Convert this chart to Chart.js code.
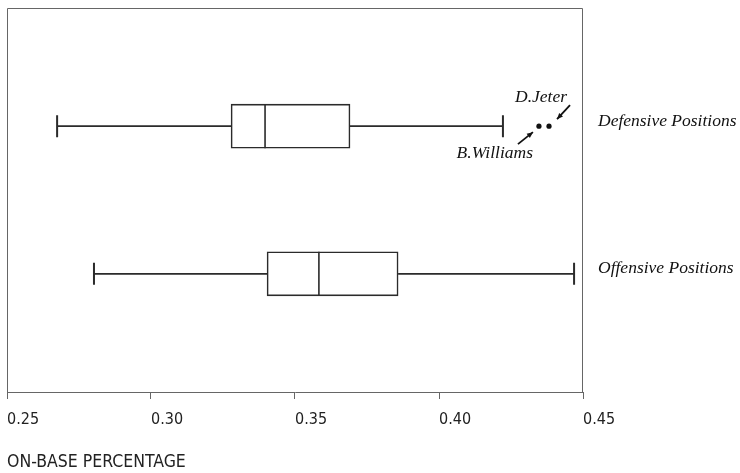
<!DOCTYPE html>
<html><head><meta charset="utf-8">
<script src="https://cdn.jsdelivr.net/npm/chart.js@4.4.1/dist/chart.umd.min.js"></script>
<style>html,body{margin:0;padding:0;background:#fff}#wrap{width:740px;height:473px}</style>
</head><body><div id="wrap"><canvas id="c" width="740" height="473"></canvas></div>
<script>
// ---- data ----
const categories = ['Defensive Positions', 'Offensive Positions'];
const whiskerLow = [0.2674, 0.2802];
const q1 = [0.3278, 0.3403];
const median = [0.3396, 0.3583];
const q3 = [0.3691, 0.3858];
const whiskerHigh = [0.4222, 0.4469];
const outlierNames = ['B.Williams', 'D.Jeter'];
const outlierValues = [0.4347, 0.4382];
const outlierGroup = [0, 0];
const xTicks = [0.25, 0.30, 0.35, 0.40, 0.45];
const axisTitle = 'ON-BASE PERCENTAGE';

function hasFont(name){
  const c=document.createElement('canvas').getContext('2d');
  c.font='40px monospace'; const a=c.measureText('0.25 ON-BASE PERCENTAGE').width;
  c.font="40px '"+name+"', monospace"; return c.measureText('0.25 ON-BASE PERCENTAGE').width!==a;
}
const narrow = hasFont('Liberation Sans Narrow');
const sansFamily = narrow ? "'Liberation Sans Narrow'" : "'DejaVu Sans Condensed', 'DejaVu Sans'";
const sansSize = narrow ? 19 : 16;
const titleSize = narrow ? 19 : 17.5;
const serifFont = "italic 17.5px 'Liberation Serif', serif";
const ink = '#2b2b2b';
const frame = '#666';

const boxPlugin = {
  id: 'boxParts',
  afterDatasetsDraw(chart){
    const {ctx, chartArea:a, scales:{x, y}} = chart;
    ctx.save();
    // frame
    ctx.strokeStyle = frame; ctx.lineWidth = 1;
    ctx.beginPath();
    ctx.moveTo(a.left+0.5, a.bottom); ctx.lineTo(a.left+0.5, a.top+0.5);
    ctx.lineTo(a.right-0.5, a.top+0.5); ctx.lineTo(a.right-0.5, a.bottom);
    ctx.stroke();
    const half = 22, cap = 11;
    ctx.strokeStyle = ink; ctx.lineWidth = 1.6;
    categories.forEach((c, i) => {
      const yc = y.getPixelForValue(i+1);
      const xl = x.getPixelForValue(whiskerLow[i]);
      const x1 = x.getPixelForValue(q1[i]);
      const xm = x.getPixelForValue(median[i]);
      const x3 = x.getPixelForValue(q3[i]);
      const xh = x.getPixelForValue(whiskerHigh[i]);
      ctx.beginPath();
      ctx.moveTo(xl, yc); ctx.lineTo(x1, yc);
      ctx.moveTo(x3, yc); ctx.lineTo(xh, yc);
      ctx.moveTo(xm, yc-half); ctx.lineTo(xm, yc+half);
      ctx.stroke();
      ctx.lineWidth = 2;
      ctx.beginPath();
      ctx.moveTo(xl, yc-cap); ctx.lineTo(xl, yc+cap);
      ctx.moveTo(xh, yc-cap); ctx.lineTo(xh, yc+cap);
      ctx.stroke();
      ctx.lineWidth = 1.6;
    });
    // annotations
    ctx.font = serifFont; ctx.fillStyle = '#111'; ctx.strokeStyle = '#111';
    function arrow(x0,y0,x1,y1){
      ctx.lineWidth = 1.8;
      ctx.beginPath(); ctx.moveTo(x0,y0); ctx.lineTo(x1,y1); ctx.stroke();
      const ang = Math.atan2(y1-y0, x1-x0), L = 6, W = 2.6;
      ctx.beginPath();
      ctx.moveTo(x1,y1);
      ctx.lineTo(x1 - L*Math.cos(ang) + W*Math.sin(ang), y1 - L*Math.sin(ang) - W*Math.cos(ang));
      ctx.lineTo(x1 - L*Math.cos(ang) - W*Math.sin(ang), y1 - L*Math.sin(ang) + W*Math.cos(ang));
      ctx.closePath(); ctx.fill();
    }
    outlierNames.forEach((n, i) => {
      const px = x.getPixelForValue(outlierValues[i]);
      const py = y.getPixelForValue(outlierGroup[i]+1);
      ctx.textAlign = 'right'; ctx.textBaseline = 'alphabetic';
      if (i === 0) {
        ctx.fillText(n, px - 6, py + 32);
        arrow(px - 21, py + 18, px - 6, py + 6);
      } else {
        ctx.fillText(n, px + 18, py - 24);
        arrow(px + 21, py - 21, px + 8, py - 7);
      }
    });
    ctx.restore();
  }
};

new Chart(document.getElementById('c'), {
  type: 'bar',
  data: {
    datasets: [
      {
        type: 'bar',
        data: categories.map((c, i) => ({x: [q1[i], q3[i]], y: i+1})),
        backgroundColor: '#fff', borderColor: ink, borderWidth: 1.6,
        borderSkipped: false, barThickness: 44
      },
      {
        type: 'scatter',
        data: outlierValues.map((v, i) => ({x: v, y: outlierGroup[i]+1})),
        pointRadius: 2.6, pointBackgroundColor: '#111', pointBorderWidth: 0
      }
    ]
  },
  options: {
    responsive: false, animation: false, indexAxis: 'y',
    layout: {padding: {left: 7, top: 8, right: 0, bottom: 0}},
    plugins: {legend: {display: false}, tooltip: {enabled: false}},
    scales: {
      x: {
        type: 'linear', position: 'bottom', min: 0.25, max: 0.45, offset: false,
        afterBuildTicks: s => { s.ticks = xTicks.map(v => ({value: v})); },
        afterFit: s => { s.height = 81; s.paddingLeft = 0; s.paddingRight = 0; },
        ticks: {callback: v => Number(v).toFixed(2), align: 'start', padding: 11,
                color: '#222', font: {family: sansFamily, size: sansSize}, maxRotation: 0},
        grid: {drawOnChartArea: false, drawTicks: true, tickLength: 7, color: frame},
        border: {display: true, color: frame, width: 1},
        title: {display: true, text: axisTitle, align: 'start', color: '#222',
                font: {family: sansFamily, size: titleSize}, padding: {top: 0, bottom: 0}}
      },
      y: {
        type: 'linear', position: 'right', min: 0.2, max: 2.8, reverse: true, offset: false,
        afterBuildTicks: s => { s.ticks = [{value: 1}, {value: 2}]; },
        afterFit: s => { s.width = 157; s.paddingTop = 0; s.paddingBottom = 0; },
        ticks: {callback: v => categories[v-1], padding: 15, color: '#111', labelOffset: -5,
                font: {family: "'Liberation Serif', serif", size: 17.5, style: 'italic'}},
        grid: {display: false, drawTicks: false, offset: false},
        border: {display: false}
      }
    }
  },
  plugins: [boxPlugin]
});
</script></body></html>
